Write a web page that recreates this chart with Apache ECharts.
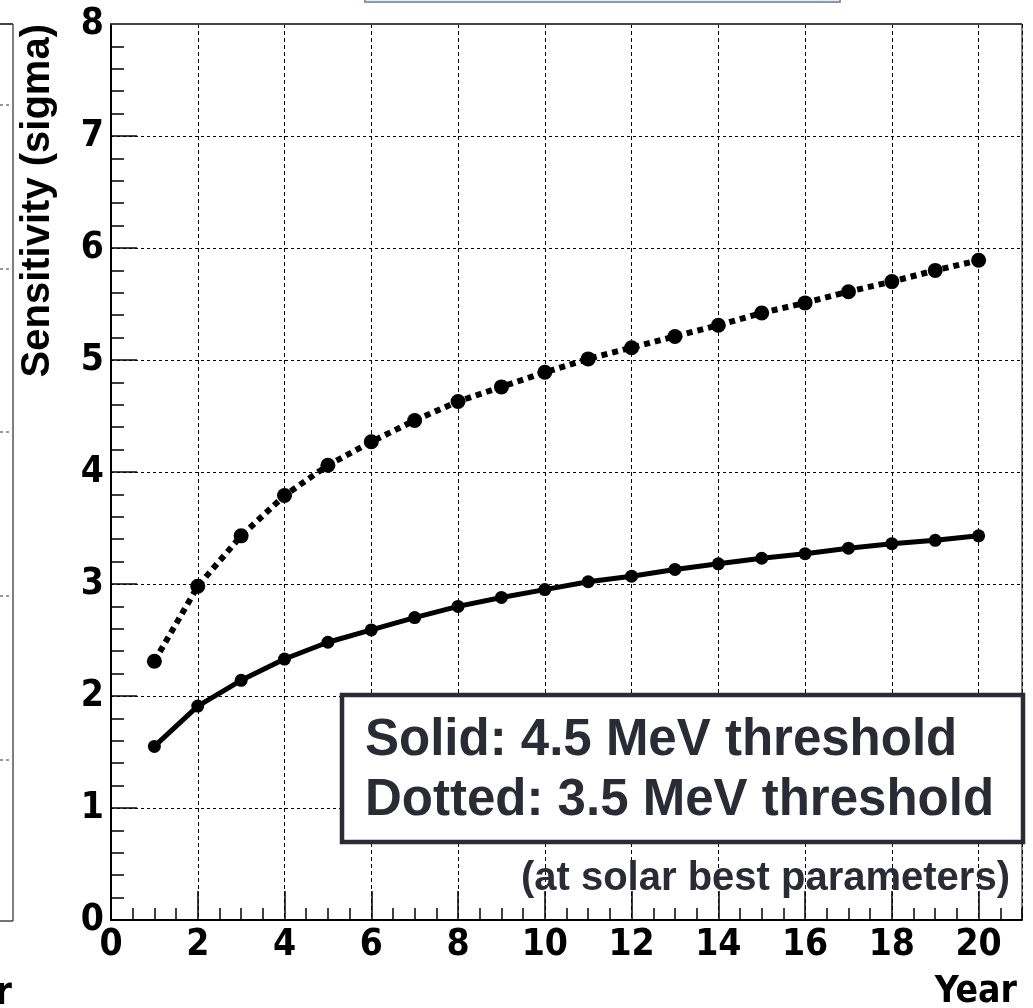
<!DOCTYPE html>
<html>
<head>
<meta charset="utf-8">
<title>Sensitivity vs Year</title>
<script src="https://cdn.jsdelivr.net/npm/echarts@6/dist/echarts.min.js"></script>
<style>
  html, body { margin: 0; padding: 0; background: #fff; }
  #chart { width: 1033px; height: 1008px; }
</style>
</head>
<body>
<div id="chart"></div>
<script>
// Exposure in years
const years = [1, 2, 3, 4, 5, 6, 7, 8, 9, 10, 11, 12, 13, 14, 15, 16, 17, 18, 19, 20];
// Sensitivity (sigma), 4.5 MeV threshold (solid curve)
const solid45 = [1.55, 1.91, 2.14, 2.33, 2.48, 2.59, 2.70, 2.80, 2.88, 2.95,
                 3.02, 3.07, 3.13, 3.18, 3.23, 3.27, 3.32, 3.36, 3.39, 3.43];
// Sensitivity (sigma), 3.5 MeV threshold (dotted curve)
const dotted35 = [2.31, 2.98, 3.43, 3.79, 4.06, 4.27, 4.46, 4.63, 4.76, 4.89,
                  5.01, 5.11, 5.21, 5.31, 5.42, 5.51, 5.61, 5.70, 5.80, 5.89];
const legendLines = ['Solid: 4.5 MeV threshold', 'Dotted: 3.5 MeV threshold'];
const noteText = '(at solar best parameters)';
const yTitle = 'Sensitivity (sigma)';
const xTitle = 'Year';

const tickFont = "'Liberation Sans Narrow','Arial Narrow','DejaVu Sans Condensed',sans-serif";
const textFont = "'Liberation Sans',Arial,Helvetica,sans-serif";
const ink = '#2b2b36';

const chart = echarts.init(document.getElementById('chart'), null, { renderer: 'canvas' });

const pairs = (vals) => years.map((x, i) => [x, vals[i]]);

const option = {
  backgroundColor: '#fff',
  animation: false,
  grid: {
    left: 111, top: 24, right: 11, bottom: 88,
    containLabel: false,
    outerBoundsMode: 'none',
    show: true,
    borderColor: '#000',
    borderWidth: 1
  },
  xAxis: [
    {
      // major ticks, labels and vertical grid
      type: 'value', min: 0, max: 21, interval: 2,
      position: 'bottom',
      axisLine: { show: true, lineStyle: { color: '#000', width: 2 } },
      axisTick: { show: true, inside: true, length: 29, lineStyle: { color: '#000', width: 1.5 } },
      axisLabel: {
        show: true, showMaxLabel: false, margin: 7,
        fontFamily: tickFont, fontWeight: 'bold', fontSize: 37, color: '#000'
      },
      splitLine: { show: true, lineStyle: { color: '#000', width: 1, type: [4, 3] } },
      minorTick: { show: false }
    },
    {
      // half-year minor ticks
      type: 'value', min: 0, max: 21, interval: 0.5,
      position: 'bottom',
      axisLine: { show: false },
      axisTick: { show: true, inside: true, length: 12, lineStyle: { color: '#000', width: 1.5 } },
      axisLabel: { show: false },
      splitLine: { show: false }
    }
  ],
  yAxis: {
    type: 'value', min: 0, max: 8, interval: 1,
    axisLine: { show: true, lineStyle: { color: '#000', width: 2 } },
    axisTick: { show: true, inside: true, length: 26, lineStyle: { color: '#000', width: 1.5 } },
    minorTick: { show: true, splitNumber: 5, length: 13, lineStyle: { color: '#000', width: 1.5 } },
    axisLabel: {
      margin: 7,
      fontFamily: tickFont, fontWeight: 'bold', fontSize: 37, color: '#000'
    },
    splitLine: { show: true, lineStyle: { color: '#000', width: 1, type: [3, 3] } }
  },
  series: [
    {
      name: legendLines[0],
      type: 'line',
      xAxisIndex: 0,
      data: pairs(solid45),
      symbol: 'circle', symbolSize: 13,
      lineStyle: { color: '#000', width: 5 },
      itemStyle: { color: '#000' },
      z: 5
    },
    {
      name: legendLines[1],
      type: 'line',
      xAxisIndex: 0,
      data: pairs(dotted35),
      symbol: 'circle', symbolSize: 15,
      lineStyle: { color: '#000', width: 6, type: [6, 5], cap: 'butt' },
      itemStyle: { color: '#000' },
      z: 5
    }
  ],
  graphic: [
    // top frame of the plot
    { type: 'line', shape: { x1: 111, y1: 24, x2: 1022, y2: 24 }, style: { stroke: '#444', lineWidth: 2 }, z: 10 },
    // edge of the neighbouring panel
    { type: 'line', shape: { x1: 13, y1: 24, x2: 13, y2: 921 }, style: { stroke: '#555', lineWidth: 1.5 } },
    { type: 'line', shape: { x1: 0, y1: 24, x2: 13, y2: 24 }, style: { stroke: '#444', lineWidth: 2 } },
    { type: 'line', shape: { x1: 0, y1: 921, x2: 13, y2: 921 }, style: { stroke: '#444', lineWidth: 1.5 } },
    ...[105, 269, 432, 596, 760].map(y => ({
      type: 'line', shape: { x1: 0, y1: y, x2: 12, y2: y },
      style: { stroke: '#333', lineWidth: 1, lineDash: [3, 3] }
    })),
    {
      type: 'text', x: 12, y: 994,
      style: { text: xTitle, fill: '#000', font: 'bold 37px ' + tickFont, align: 'right', verticalAlign: 'middle' }
    },
    // strip of the header box above
    { type: 'rect', shape: { x: 365, y: -20, width: 475, height: 22 }, style: { fill: '#e9edf3', stroke: '#8a98ae', lineWidth: 2 } },
    // axis titles
    {
      type: 'text', x: 38, y: 24, rotation: Math.PI / 2,
      style: { text: yTitle, fill: '#000', font: 'bold 40px ' + textFont, align: 'right', verticalAlign: 'middle' }
    },
    {
      type: 'text', x: 1017, y: 992,
      style: { text: xTitle, fill: '#000', font: 'bold 37px ' + tickFont, align: 'right', verticalAlign: 'middle' }
    },
    // threshold key
    {
      type: 'rect', z: 20,
      shape: { x: 342, y: 695, width: 681, height: 147 },
      style: { fill: '#fff', stroke: ink, lineWidth: 4.5 }
    },
    {
      type: 'text', z: 21, x: 365, y: 741,
      style: { text: legendLines[0], fill: ink, font: 'bold 51px ' + textFont, align: 'left', verticalAlign: 'middle' }
    },
    {
      type: 'text', z: 21, x: 365, y: 801,
      style: { text: legendLines[1], fill: ink, font: 'bold 51px ' + textFont, align: 'left', verticalAlign: 'middle' }
    },
    {
      type: 'text', z: 21, x: 1010, y: 879,
      style: { text: noteText, fill: ink, font: 'bold 40px ' + textFont, align: 'right', verticalAlign: 'middle' }
    }
  ]
};

chart.setOption(option);
</script>
</body>
</html>
